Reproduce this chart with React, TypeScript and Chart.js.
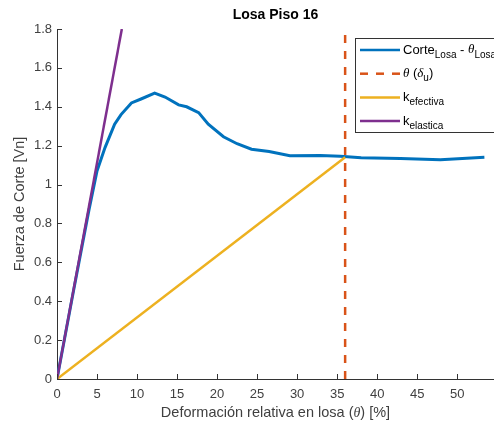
import React, { useEffect, useRef } from 'react';
import { Chart, registerables } from 'chart.js';

Chart.register(...registerables);

// Shear response of the slab: drift (%) vs normalized shear (Vn)
const corteTheta = [0, 2, 4, 5, 6, 7.2, 8, 9.3, 10.5, 12.2, 13.5, 15.2, 16.2, 17.7, 18.9, 20.8, 22.5, 24.3, 26.5, 29.1, 32.9, 35.4, 38, 42.9, 47.9, 53.4];
const corteV = [0, 0.44, 0.87, 1.07, 1.19, 1.31, 1.36, 1.42, 1.44, 1.47, 1.45, 1.41, 1.4, 1.37, 1.31, 1.246, 1.21, 1.182, 1.17, 1.148, 1.15, 1.146, 1.138, 1.134, 1.128, 1.14];

// Ultimate drift marker
const thetaUTheta = [36, 36];
const thetaUV = [0, 1.8];

// Effective stiffness (secant to ultimate point)
const kEfTheta = [0, 36];
const kEfV = [0, 1.14];

// Elastic stiffness
const kElTheta = [0, 8.1];
const kElV = [0, 1.8];

const xTickStep = 5;
const yTickStep = 0.2;

const BLUE = '#0072BD';
const ORANGE = '#D95319';
const YELLOW = '#EDB120';
const PURPLE = '#7E2F8E';
const AXIS = '#333333';
const TEXT = '#404040';
const SANS = '"Liberation Sans", Arial, sans-serif';
const SERIF_IT = 'italic 14px "Liberation Serif", serif';
const DASH = [8, 8];

const toPoints = (xs: number[], ys: number[]) => xs.map((x, i) => ({ x, y: ys[i] }));

type Part = { t: string; kind?: 'sub' | 'it' };
const legendEntries: { color: string; dash: number[]; parts: Part[] }[] = [
  { color: BLUE, dash: [], parts: [{ t: 'Corte' }, { t: 'Losa', kind: 'sub' }, { t: ' - ' }, { t: 'θ', kind: 'it' }, { t: 'Losa', kind: 'sub' }] },
  { color: ORANGE, dash: DASH, parts: [{ t: 'θ', kind: 'it' }, { t: ' (' }, { t: 'δ', kind: 'it' }, { t: 'u', kind: 'sub' }, { t: ')' }] },
  { color: YELLOW, dash: [], parts: [{ t: 'k' }, { t: 'efectiva', kind: 'sub' }] },
  { color: PURPLE, dash: [], parts: [{ t: 'k' }, { t: 'elastica', kind: 'sub' }] },
];

const xTitleParts: Part[] = [{ t: 'Deformación relativa en losa (' }, { t: 'θ', kind: 'it' }, { t: ') [%]' }];

const decorations = {
  id: 'decorations',
  afterDraw(chart: any) {
    const ctx: CanvasRenderingContext2D = chart.ctx;
    const { chartArea } = chart;
    const xs = chart.scales.x;
    const ys = chart.scales.y;
    ctx.save();

    // inward tick marks
    ctx.strokeStyle = AXIS;
    ctx.lineWidth = 1;
    ctx.beginPath();
    xs.ticks.forEach((t: any) => {
      const px = Math.round(xs.getPixelForValue(t.value)) + 0.5;
      ctx.moveTo(px, chartArea.bottom);
      ctx.lineTo(px, chartArea.bottom - 5);
    });
    ys.ticks.forEach((t: any) => {
      const py = Math.round(ys.getPixelForValue(t.value)) + 0.5;
      ctx.moveTo(chartArea.left, py);
      ctx.lineTo(chartArea.left + 5, py);
    });
    ctx.stroke();

    const cx = (chartArea.left + chartArea.right) / 2;

    // title
    ctx.fillStyle = '#000000';
    ctx.font = `bold 14px ${SANS}`;
    ctx.textAlign = 'center';
    ctx.textBaseline = 'middle';
    ctx.fillText('Losa Piso 16', cx, 15);

    // x axis title (with italic theta)
    ctx.textAlign = 'left';
    ctx.fillStyle = TEXT;
    const setFont = (p: Part) => {
      ctx.font = p.kind === 'it' ? SERIF_IT : `14.5px ${SANS}`;
    };
    let total = 0;
    xTitleParts.forEach((p) => {
      setFont(p);
      total += ctx.measureText(p.t).width;
    });
    let tx = cx - total / 2;
    xTitleParts.forEach((p) => {
      setFont(p);
      ctx.fillText(p.t, tx, 413);
      tx += ctx.measureText(p.t).width;
    });

    // legend
    const bx = 355.5;
    const by = 38.5;
    ctx.fillStyle = '#ffffff';
    ctx.fillRect(bx, by, 180, 94);
    ctx.strokeStyle = AXIS;
    ctx.lineWidth = 1;
    ctx.strokeRect(bx, by, 180, 94);

    const rowY = [50, 73.7, 97.4, 121];
    legendEntries.forEach((e, i) => {
      const y = rowY[i];
      ctx.strokeStyle = e.color;
      ctx.lineWidth = 2.5;
      ctx.setLineDash(e.dash);
      ctx.beginPath();
      ctx.moveTo(360, y);
      ctx.lineTo(400, y);
      ctx.stroke();
      ctx.setLineDash([]);

      let x = 403;
      ctx.fillStyle = '#000000';
      ctx.textAlign = 'left';
      ctx.textBaseline = 'middle';
      e.parts.forEach((p) => {
        let dy = 0;
        if (p.kind === 'sub') {
          ctx.font = `10px ${SANS}`;
          dy = 5;
        } else if (p.kind === 'it') {
          ctx.font = `italic 13px "Liberation Serif", serif`;
        } else {
          ctx.font = `13px ${SANS}`;
        }
        ctx.fillText(p.t, x, y + dy);
        x += ctx.measureText(p.t).width;
      });
    });
    ctx.restore();
  },
};

export default function App() {
  const canvasRef = useRef<HTMLCanvasElement | null>(null);

  useEffect(() => {
    document.body.style.margin = '0';
    const canvas = canvasRef.current;
    if (!canvas) return;
    const line = (label: string, pts: { x: number; y: number }[], color: string, width: number, order: number, dash: number[] = []) => ({
      label,
      data: pts,
      borderColor: color,
      backgroundColor: color,
      borderWidth: width,
      borderDash: dash,
      pointRadius: 0,
      tension: 0,
      fill: false,
      order,
    });

    const chart = new Chart(canvas, {
      type: 'line',
      data: {
        datasets: [
          line('Corte Losa - θ Losa', toPoints(corteTheta, corteV), BLUE, 3, 4),
          line('θ (δu)', toPoints(thetaUTheta, thetaUV), ORANGE, 2.5, 3, DASH),
          line('k efectiva', toPoints(kEfTheta, kEfV), YELLOW, 2.5, 2),
          line('k elastica', toPoints(kElTheta, kElV), PURPLE, 2.5, 1),
        ],
      },
      options: {
        responsive: false,
        animation: false,
        devicePixelRatio: 1,
        layout: { padding: { top: 29, left: 0, right: 0, bottom: 0 } },
        plugins: {
          legend: { display: false },
          tooltip: { enabled: false },
          title: { display: false },
        },
        scales: {
          x: {
            type: 'linear',
            min: 0,
            max: 54.6,
            grid: { display: false, drawTicks: false },
            border: { display: true, color: AXIS, width: 1 },
            ticks: {
              stepSize: xTickStep,
              includeBounds: false,
              color: TEXT,
              font: { family: SANS, size: 13 },
              padding: 8,
              maxRotation: 0,
            },
            afterFit: (s: any) => {
              s.height = 48;
            },
          },
          y: {
            type: 'linear',
            min: 0,
            max: 1.8,
            grid: { display: false, drawTicks: false },
            border: { display: true, color: AXIS, width: 1 },
            ticks: {
              stepSize: yTickStep,
              color: TEXT,
              font: { family: SANS, size: 13 },
              padding: 5,
              callback: (v: any) => `${+(+v).toFixed(2)}`,
            },
            title: {
              display: true,
              text: 'Fuerza de Corte [Vn]',
              color: TEXT,
              font: { family: SANS, size: 14.5 },
              padding: { top: 11, bottom: 0 },
            },
            afterFit: (s: any) => {
              s.width = 57;
            },
          },
        },
      },
      plugins: [decorations],
    } as any);

    return () => chart.destroy();
  }, []);

  return (
    <div style={{ position: 'fixed', left: 0, top: 0, width: 494, height: 427, background: '#ffffff' }}>
      <canvas ref={canvasRef} width={494} height={427} />
    </div>
  );
}
